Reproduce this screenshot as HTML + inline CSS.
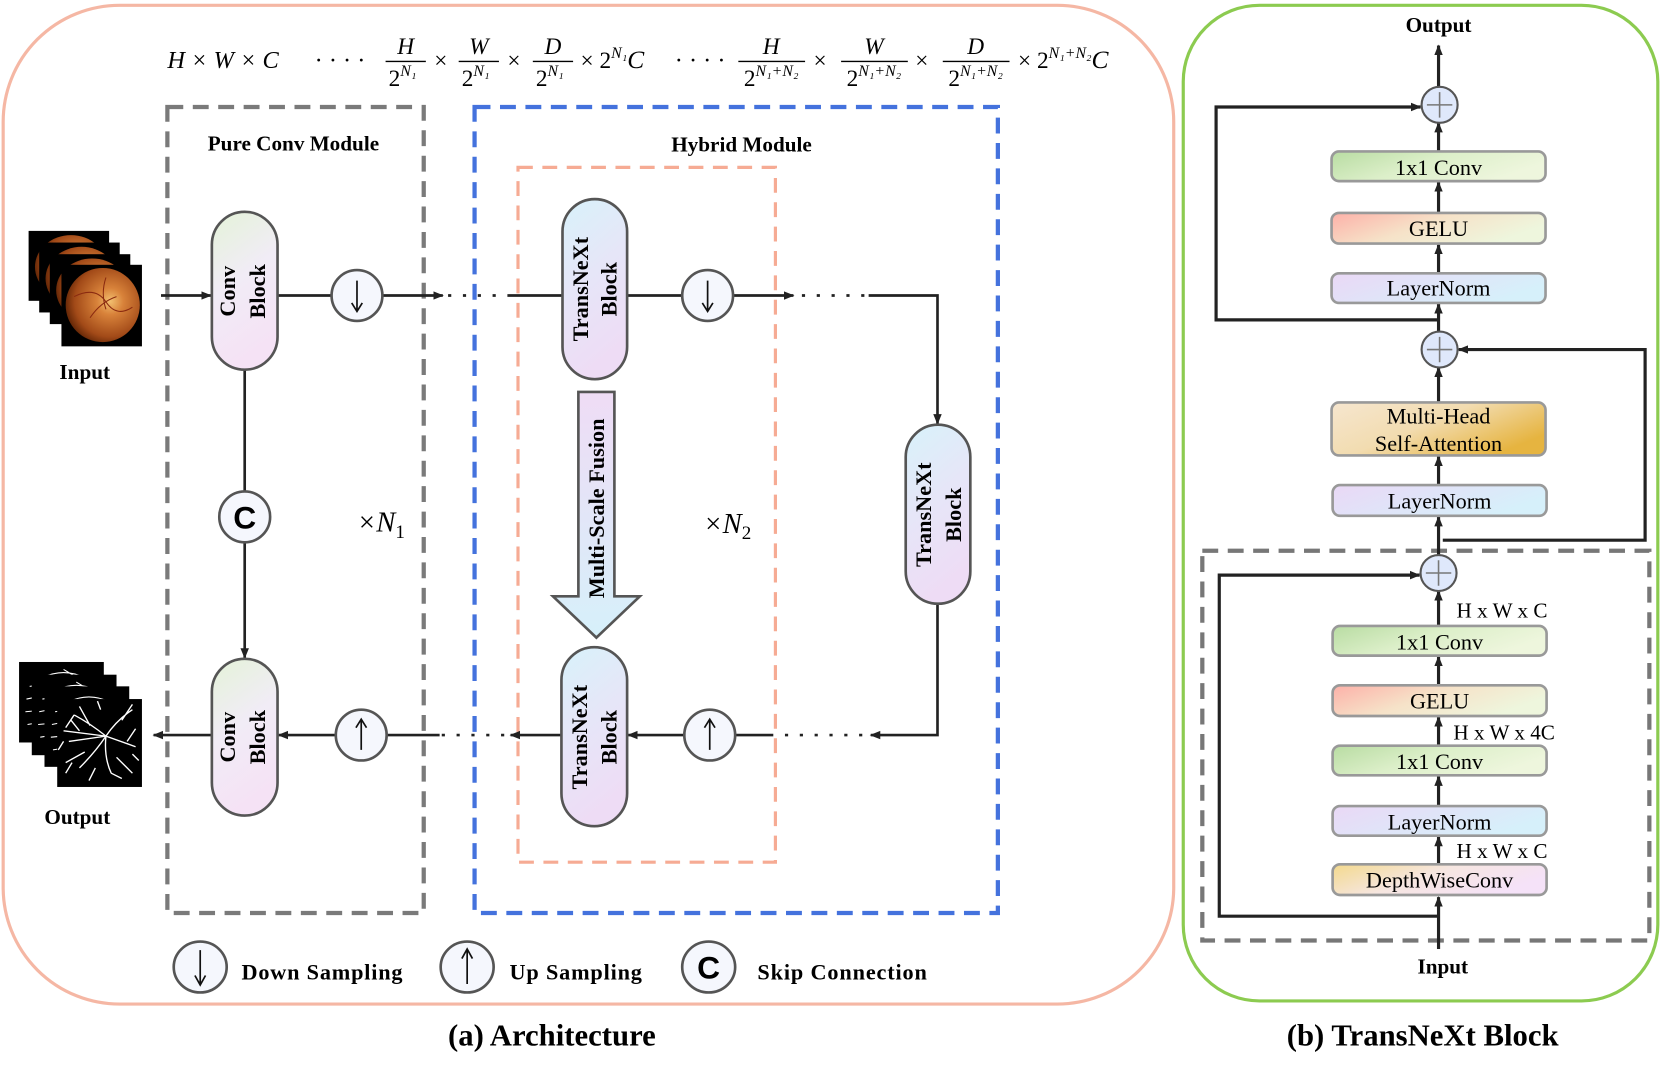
<!DOCTYPE html>
<html><head><meta charset="utf-8"><style>
html,body{margin:0;padding:0;background:#fff;}
svg{display:block;}
</style></head><body>
<svg width="1661" height="1074" viewBox="0 0 1568 1014" preserveAspectRatio="none" xmlns="http://www.w3.org/2000/svg" font-family="'Liberation Serif',serif">
<defs>
<marker id="ar" markerWidth="10" markerHeight="10" refX="9" refY="5" orient="auto" markerUnits="userSpaceOnUse"><path d="M0,1 L10,5 L0,9 Z" fill="#222"/></marker>
<linearGradient id="gConv" x1="0" y1="0" x2="0.3" y2="1"><stop offset="0" stop-color="#e4f3d8"/><stop offset="0.5" stop-color="#f1ecf6"/><stop offset="1" stop-color="#f5e2f5"/></linearGradient>
<linearGradient id="gTx" x1="0" y1="0" x2="0.3" y2="1"><stop offset="0" stop-color="#d8f2fa"/><stop offset="0.5" stop-color="#e6e6f8"/><stop offset="1" stop-color="#eedcf5"/></linearGradient>
<linearGradient id="gMs" x1="0" y1="0" x2="0" y2="1"><stop offset="0" stop-color="#efdcf5"/><stop offset="1" stop-color="#d6f0fa"/></linearGradient>
<linearGradient id="gGreen" x1="0" y1="0" x2="1" y2="0.4"><stop offset="0" stop-color="#b8dca2"/><stop offset="0.5" stop-color="#dcefc9"/><stop offset="1" stop-color="#eef6dd"/></linearGradient>
<linearGradient id="gGelu" x1="0" y1="0" x2="1" y2="0.4"><stop offset="0" stop-color="#fdb0a8"/><stop offset="0.5" stop-color="#f6e2c8"/><stop offset="1" stop-color="#eef6dd"/></linearGradient>
<linearGradient id="gLN" x1="0" y1="0" x2="1" y2="0.4"><stop offset="0" stop-color="#ead8f6"/><stop offset="1" stop-color="#d6f0fa"/></linearGradient>
<linearGradient id="gMH" x1="0" y1="0" x2="1" y2="0.6"><stop offset="0" stop-color="#f6e6cf"/><stop offset="0.5" stop-color="#f2dcb0"/><stop offset="1" stop-color="#e6b440"/></linearGradient>
<linearGradient id="gDW" x1="0" y1="0" x2="1" y2="0.4"><stop offset="0" stop-color="#f3d98c"/><stop offset="0.5" stop-color="#f6e6e0"/><stop offset="1" stop-color="#f5e2f8"/></linearGradient>
<radialGradient id="gEye" cx="0.6" cy="0.45" r="0.6"><stop offset="0" stop-color="#f2c070"/><stop offset="0.3" stop-color="#d8823a"/><stop offset="0.8" stop-color="#a24a18"/><stop offset="1" stop-color="#6a2a08"/></radialGradient>
</defs>

<rect x="3" y="5" width="1105" height="943" rx="110" fill="none" stroke="#f5b7a4" stroke-width="3"/>
<rect x="1117" y="5" width="448" height="940" rx="72" fill="none" stroke="#8ccb50" stroke-width="3"/>
<text x="521" y="987" text-anchor="middle" font-weight="bold" font-size="29">(a) Architecture</text>
<text x="1343" y="987" text-anchor="middle" font-weight="bold" font-size="29">(b) TransNeXt Block</text>

<!-- formula -->
<g font-style="italic" font-size="22">
<text x="158" y="64" font-size="23">H × W × C</text>
<text x="297" y="64" font-size="23" font-style="normal">· · · ·</text>
<text x="383" y="51" text-anchor="middle">H</text><line x1="364" y1="58" x2="402" y2="58" stroke="#000" stroke-width="1.3"/><text x="380" y="81" text-anchor="middle" font-style="normal">2<tspan font-size="15" font-style="italic" dy="-9">N₁</tspan></text>
<text x="410" y="64" font-style="normal">×</text>
<text x="452" y="51" text-anchor="middle">W</text><line x1="433" y1="58" x2="471" y2="58" stroke="#000" stroke-width="1.3"/><text x="449" y="81" text-anchor="middle" font-style="normal">2<tspan font-size="15" font-style="italic" dy="-9">N₁</tspan></text>
<text x="479" y="64" font-style="normal">×</text>
<text x="522" y="51" text-anchor="middle">D</text><line x1="503" y1="58" x2="541" y2="58" stroke="#000" stroke-width="1.3"/><text x="519" y="81" text-anchor="middle" font-style="normal">2<tspan font-size="15" font-style="italic" dy="-9">N₁</tspan></text>
<text x="548" y="64" font-style="normal">× 2<tspan font-size="15" font-style="italic" dy="-9">N₁</tspan><tspan dy="9" font-style="italic" font-size="24">C</tspan></text>
<text x="637" y="64" font-size="23" font-style="normal">· · · ·</text>
<text x="728" y="51" text-anchor="middle">H</text><line x1="697" y1="58" x2="760" y2="58" stroke="#000" stroke-width="1.3"/><text x="728" y="81" text-anchor="middle" font-style="normal">2<tspan font-size="15" font-style="italic" dy="-9">N₁+N₂</tspan></text>
<text x="768" y="64" font-style="normal">×</text>
<text x="825" y="51" text-anchor="middle">W</text><line x1="794" y1="58" x2="857" y2="58" stroke="#000" stroke-width="1.3"/><text x="825" y="81" text-anchor="middle" font-style="normal">2<tspan font-size="15" font-style="italic" dy="-9">N₁+N₂</tspan></text>
<text x="864" y="64" font-style="normal">×</text>
<text x="921" y="51" text-anchor="middle">D</text><line x1="890" y1="58" x2="953" y2="58" stroke="#000" stroke-width="1.3"/><text x="921" y="81" text-anchor="middle" font-style="normal">2<tspan font-size="15" font-style="italic" dy="-9">N₁+N₂</tspan></text>
<text x="961" y="64" font-style="normal">× 2<tspan font-size="15" font-style="italic" dy="-9">N₁+N₂</tspan><tspan dy="9" font-style="italic" font-size="24">C</tspan></text>
</g>

<rect x="158" y="101" width="242" height="761" fill="none" stroke="#7a7a7a" stroke-width="4" stroke-dasharray="15 9"/>
<rect x="448" y="101" width="494" height="761" fill="none" stroke="#4472dd" stroke-width="4" stroke-dasharray="15 9"/>
<rect x="489" y="158" width="243" height="656" fill="none" stroke="#f6ab94" stroke-width="3" stroke-dasharray="14 9"/>
<text x="277" y="142" text-anchor="middle" font-weight="bold" font-size="20">Pure Conv Module</text>
<text x="700" y="143" text-anchor="middle" font-weight="bold" font-size="20">Hybrid Module</text>
<text x="337" y="502" font-style="italic" font-size="27">×N<tspan font-size="18" dy="6" font-style="normal">1</tspan></text>
<text x="664" y="503" font-style="italic" font-size="27">×N<tspan font-size="18" dy="6" font-style="normal">2</tspan></text>

<g stroke="#222" stroke-width="2.5" fill="none">
<line x1="152" y1="279" x2="199" y2="279" marker-end="url(#ar)"/>
<line x1="262" y1="279" x2="313" y2="279"/>
<line x1="361" y1="279" x2="418" y2="279" marker-end="url(#ar)"/>
<line x1="423" y1="279" x2="480" y2="279" stroke-dasharray="3 11"/>
<line x1="480" y1="279" x2="531" y2="279"/>
<line x1="592" y1="279" x2="644" y2="279"/>
<line x1="692" y1="279" x2="749" y2="279" marker-end="url(#ar)"/>
<line x1="757" y1="279" x2="818" y2="279" stroke-dasharray="3 11"/>
<polyline points="820,279 885,279 885,400" marker-end="url(#ar)"/>
<polyline points="885,570 885,694 822,694" marker-end="url(#ar)"/>
<line x1="814" y1="694" x2="738" y2="694" stroke-dasharray="3 11"/>
<line x1="730" y1="694" x2="694" y2="694"/>
<line x1="646" y1="694" x2="593" y2="694" marker-end="url(#ar)"/>
<line x1="530" y1="694" x2="482" y2="694" marker-end="url(#ar)"/>
<line x1="476" y1="694" x2="415" y2="694" stroke-dasharray="3 11"/>
<line x1="415" y1="694" x2="365" y2="694"/>
<line x1="317" y1="694" x2="263" y2="694" marker-end="url(#ar)"/>
<line x1="200" y1="694" x2="145" y2="694" marker-end="url(#ar)"/>
<line x1="231" y1="349" x2="231" y2="464"/>
<line x1="231" y1="512" x2="231" y2="621" marker-end="url(#ar)"/>
</g>

<g stroke="#555" stroke-width="2.5">
<rect x="200" y="200" width="62" height="149" rx="31" fill="url(#gConv)"/>
<rect x="200" y="622" width="62" height="148" rx="31" fill="url(#gConv)"/>
<rect x="531" y="188" width="61" height="170" rx="30.5" fill="url(#gTx)"/>
<rect x="530" y="611" width="62" height="169" rx="31" fill="url(#gTx)"/>
<rect x="855" y="401" width="61" height="169" rx="30.5" fill="url(#gTx)"/>
<path d="M546,370 L580,370 L580,563 L604,563 L563,602 L522,563 L546,563 Z" fill="url(#gMs)"/>
</g>
<g font-weight="bold" font-size="21" text-anchor="middle">
<text transform="translate(222,275) rotate(-90)">Conv</text>
<text transform="translate(250,275) rotate(-90)">Block</text>
<text transform="translate(222,696) rotate(-90)">Conv</text>
<text transform="translate(250,696) rotate(-90)">Block</text>
<text transform="translate(555,273) rotate(-90)">TransNeXt</text>
<text transform="translate(582,273) rotate(-90)">Block</text>
<text transform="translate(554,696) rotate(-90)">TransNeXt</text>
<text transform="translate(582,696) rotate(-90)">Block</text>
<text transform="translate(879,486) rotate(-90)">TransNeXt</text>
<text transform="translate(907,486) rotate(-90)">Block</text>
<text transform="translate(570,480) rotate(-90)">Multi-Scale Fusion</text>
</g>

<g stroke="#555" stroke-width="2.5" fill="#f5f7fd">
<circle cx="337" cy="279" r="24"/><circle cx="668" cy="279" r="24"/>
<circle cx="341" cy="694" r="24"/><circle cx="670" cy="694" r="24"/>
<circle cx="231" cy="488" r="24"/>
<ellipse cx="189" cy="913" rx="25" ry="24"/><ellipse cx="441" cy="913" rx="25" ry="24"/><ellipse cx="669" cy="913" rx="25" ry="24"/>
</g>
<g stroke="#111" stroke-width="1.6" fill="none">
<path d="M337,265 v28 M332,286 l5,8 l5,-8"/>
<path d="M668,265 v28 M663,286 l5,8 l5,-8"/>
<path d="M189,897 v32 M184,921 l5,9 l5,-9"/>
<path d="M341,708 v-28 M336,687 l5,-8 l5,8"/>
<path d="M670,708 v-28 M665,687 l5,-8 l5,8"/>
<path d="M441,929 v-32 M436,905 l5,-9 l5,9"/>
</g>
<text x="231" y="499" text-anchor="middle" font-family="'Liberation Sans',sans-serif" font-weight="bold" font-size="30">C</text>
<text x="669" y="924" text-anchor="middle" font-family="'Liberation Sans',sans-serif" font-weight="bold" font-size="30">C</text>
<g font-weight="bold" font-size="21">
<text x="228" y="925" textLength="152">Down Sampling</text>
<text x="481" y="925" textLength="125">Up Sampling</text>
<text x="715" y="925" textLength="160">Skip Connection</text>
</g>

<g>
<rect x="27" y="218" width="76" height="66" fill="#000"/><ellipse cx="67" cy="252" rx="34" ry="30" fill="url(#gEye)"/>
<rect x="37" y="229" width="76" height="66" fill="#000"/><ellipse cx="77" cy="263" rx="34" ry="30" fill="url(#gEye)"/>
<rect x="47" y="240" width="76" height="66" fill="#000"/><ellipse cx="87" cy="274" rx="34" ry="30" fill="url(#gEye)"/>
<rect x="58" y="250" width="76" height="77" fill="#000"/><ellipse cx="97" cy="288" rx="35" ry="35" fill="url(#gEye)"/>
<path d="M70,280 q20,-10 30,5 q10,15 25,5 M85,300 q10,-15 25,-20 M100,262 q-5,15 0,30" stroke="#8a2a10" stroke-width="1" fill="none"/>
</g>
<text x="80" y="358" text-anchor="middle" font-weight="bold" font-size="20">Input</text>
<g stroke="#fff" stroke-width="1" fill="none">
<rect x="18" y="625" width="80" height="76" fill="#000" stroke="none"/>
<path d="M25,660 l20,-4 M24,672 l22,-2 M26,684 l18,-3 M28,648 l14,-2 M40,640 q20,-10 40,0 M60,632 l10,6"/>
<rect x="30" y="637" width="80" height="76" fill="#000" stroke="none"/>
<path d="M37,672 l20,-4 M36,684 l22,-2 M38,696 l18,-3 M40,660 l14,-2 M52,652 q20,-10 40,0 M72,644 l10,6"/>
<rect x="42" y="648" width="80" height="76" fill="#000" stroke="none"/>
<path d="M49,684 l20,-4 M48,696 l22,-2 M50,708 l18,-3 M52,672 l14,-2 M64,663 q20,-10 40,0"/>
<rect x="54" y="660" width="80" height="83" fill="#000" stroke="none"/>
<g stroke-width="1.3">
<path d="M100,695 q-15,-12 -30,-20 M100,695 l-35,5 M100,695 q-10,15 -25,30 M100,695 q10,-15 25,-25 M100,695 l28,10 M100,695 q-2,20 5,35 M100,695 l-40,-5 M85,685 l-10,-18 M80,710 l-18,10 M115,680 l10,-15 M110,715 l15,15 M70,675 l-8,12 M90,725 l-6,12 M75,690 l-8,-10 M60,700 l-5,8 M120,700 l8,-12 M105,730 l10,5 M95,670 l-3,-8 M125,712 l6,6 M68,720 l-6,10"/>
</g>
</g>
<text x="73" y="778" text-anchor="middle" font-weight="bold" font-size="20">Output</text>

<rect x="1135" y="520" width="422" height="368" fill="none" stroke="#777" stroke-width="4" stroke-dasharray="15 9"/>
<g stroke="#222" stroke-width="3" fill="none">
<line x1="1358" y1="896" x2="1358" y2="847" marker-end="url(#ar)"/>
<line x1="1358" y1="816" x2="1358" y2="790" marker-end="url(#ar)"/>
<line x1="1358" y1="761" x2="1358" y2="733" marker-end="url(#ar)"/>
<line x1="1358" y1="704" x2="1358" y2="677" marker-end="url(#ar)"/>
<line x1="1358" y1="647" x2="1358" y2="620" marker-end="url(#ar)"/>
<line x1="1358" y1="591" x2="1358" y2="558" marker-end="url(#ar)"/>
<line x1="1358" y1="524" x2="1358" y2="488" marker-end="url(#ar)"/>
<line x1="1358" y1="458" x2="1358" y2="431" marker-end="url(#ar)"/>
<line x1="1358" y1="380" x2="1358" y2="347" marker-end="url(#ar)"/>
<line x1="1358" y1="313" x2="1358" y2="287" marker-end="url(#ar)"/>
<line x1="1358" y1="258" x2="1358" y2="231" marker-end="url(#ar)"/>
<line x1="1358" y1="201" x2="1358" y2="172" marker-end="url(#ar)"/>
<line x1="1358" y1="143" x2="1358" y2="116" marker-end="url(#ar)"/>
<line x1="1358" y1="82" x2="1358" y2="43" marker-end="url(#ar)"/>
<polyline points="1358,865 1151,865 1151,543 1340,543" marker-end="url(#ar)"/>
<polyline points="1362,510 1553,510 1553,330 1377,330" marker-end="url(#ar)"/>
<polyline points="1358,302 1148,302 1148,101 1341,101" marker-end="url(#ar)"/>
</g>
<g stroke="#999" stroke-width="2.5">
<rect x="1257" y="143" width="202" height="28" rx="7" fill="url(#gGreen)"/>
<rect x="1257" y="201" width="202" height="29" rx="7" fill="url(#gGelu)"/>
<rect x="1257" y="258" width="202" height="28" rx="7" fill="url(#gLN)"/>
<rect x="1257" y="380" width="202" height="50" rx="7" fill="url(#gMH)"/>
<rect x="1258" y="458" width="202" height="29" rx="7" fill="url(#gLN)"/>
<rect x="1258" y="591" width="202" height="28" rx="7" fill="url(#gGreen)"/>
<rect x="1258" y="647" width="202" height="29" rx="7" fill="url(#gGelu)"/>
<rect x="1258" y="704" width="202" height="28" rx="7" fill="url(#gGreen)"/>
<rect x="1258" y="761" width="202" height="28" rx="7" fill="url(#gLN)"/>
<rect x="1258" y="816" width="202" height="29" rx="7" fill="url(#gDW)"/>
</g>
<g stroke="#555" stroke-width="2" fill="#dfe8fb">
<circle cx="1359" cy="99" r="17"/><circle cx="1359" cy="330" r="17"/><circle cx="1358" cy="541" r="17"/>
</g>
<g stroke="#777" stroke-width="1.5">
<path d="M1347,99 h24 M1359,87 v24 M1347,330 h24 M1359,318 v24 M1346,541 h24 M1358,529 v24"/>
</g>
<g font-size="21" text-anchor="middle">
<text x="1358" y="165">1x1 Conv</text>
<text x="1358" y="223">GELU</text>
<text x="1358" y="279">LayerNorm</text>
<text x="1358" y="400">Multi-Head</text>
<text x="1358" y="426">Self-Attention</text>
<text x="1359" y="480">LayerNorm</text>
<text x="1359" y="613">1x1 Conv</text>
<text x="1359" y="669">GELU</text>
<text x="1359" y="726">1x1 Conv</text>
<text x="1359" y="783">LayerNorm</text>
<text x="1359" y="838">DepthWiseConv</text>
</g>
<g font-size="20">
<text x="1375" y="583">H x W x C</text>
<text x="1372" y="698">H x W x 4C</text>
<text x="1375" y="810">H x W x C</text>
</g>
<text x="1358" y="30" text-anchor="middle" font-weight="bold" font-size="20">Output</text>
<text x="1362" y="919" text-anchor="middle" font-weight="bold" font-size="20">Input</text>
</svg>
</body></html>
